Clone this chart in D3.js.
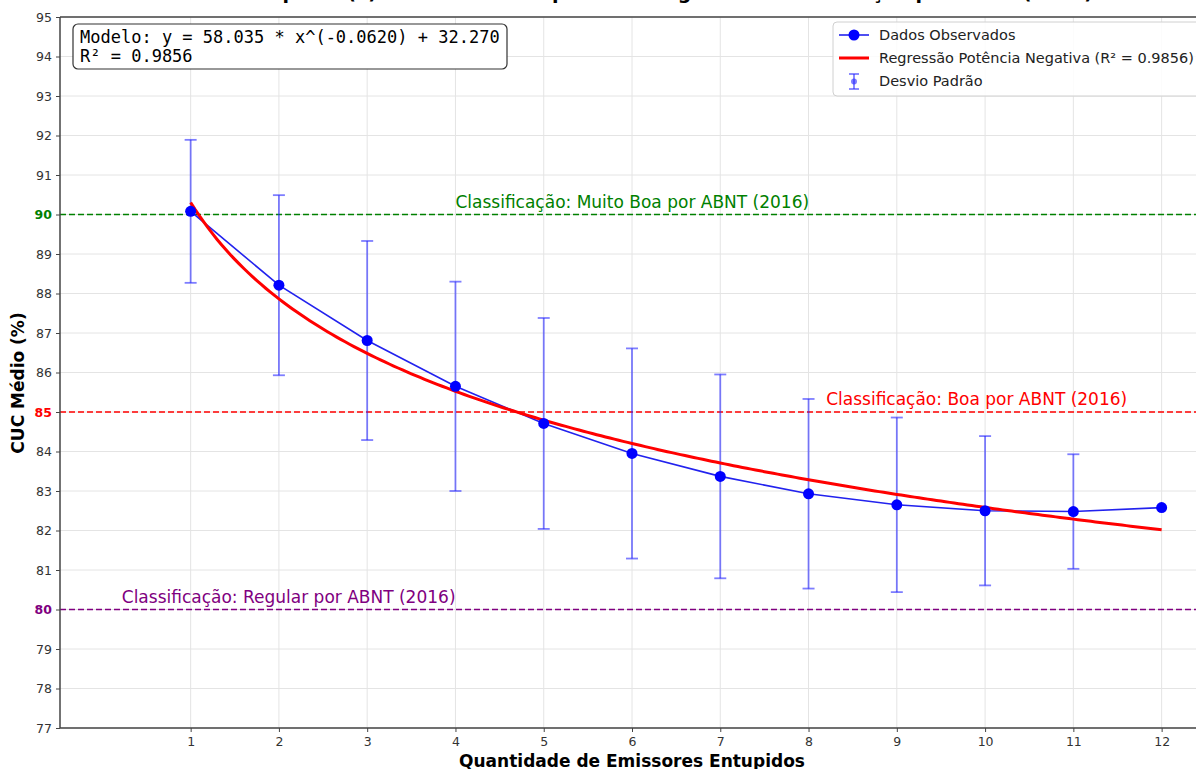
<!DOCTYPE html>
<html>
<head>
<meta charset="utf-8">
<script src="https://cdn.jsdelivr.net/npm/d3@7"></script>
<style>
    body { margin: 0; background: white; }
    svg { display: block; font-family: "DejaVu Sans", sans-serif; }
</style>
</head>
<body>
<div id="canvas"></div>
<script>
"use strict"

/* Data */
let emitters = [1, 2, 3, 4, 5, 6, 7, 8, 9, 10, 11, 12];
let cucMean = [90.08, 88.21, 86.81, 85.65, 84.71, 83.95, 83.37, 82.93, 82.65, 82.50, 82.48, 82.58];
let cucStd = [1.81, 2.28, 2.52, 2.65, 2.67, 2.66, 2.58, 2.40, 2.21, 1.89, 1.45, 0];
let yTicks = [77, 78, 79, 80, 81, 82, 83, 84, 85, 86, 87, 88, 89, 90, 91, 92, 93, 94, 95];

/* Fitted model shown in the chart: y = a * x^b + c */
let modelA = 58.035;
let modelB = -0.0620;
let modelC = 32.270;

/* ABNT (2016) classification thresholds */
let classLevels = [90, 85, 80];
let classNames = ["Classificação: Muito Boa por ABNT (2016)",
                  "Classificação: Boa por ABNT (2016)",
                  "Classificação: Regular por ABNT (2016)"];
let classColors = ["green", "red", "purple"];
let classLabelX = [4, 8.2, 0.22];

/* Configuration variables: drawing */
let svgWidth = 1196;
let svgHeight = 769;
let plotLeft = 60;
let plotRight = 1204;
let plotTop = 17;
let plotBottom = 728;

let svg = d3.select("#canvas")
    .append("svg")
    .attr("width", svgWidth)
    .attr("height", svgHeight);

let xScale = d3.scaleLinear()
    .domain([-0.48, 12.48])
    .range([plotLeft, plotRight]);

let yScale = d3.scaleLinear()
    .domain([77, 95])
    .range([plotBottom, plotTop]);

/* Title (mostly cut off at the top of the picture, as in the source) */
svg.append("text")
    .attr("x", 1093)
    .attr("y", -1)
    .attr("text-anchor", "end")
    .style("font-size", "19px")
    .style("font-weight", "bold")
    .text("Emissores Entupidos (x) com Modelo de potência negativa e Classificação por ABNT (2016)");

/* Grid */
svg.append("g")
    .selectAll("line")
    .data(yTicks)
    .join("line")
    .attr("x1", plotLeft)
    .attr("x2", plotRight)
    .attr("y1", d => yScale(d))
    .attr("y2", d => yScale(d))
    .attr("stroke", "#e4e4e4")
    .attr("stroke-width", 1);

svg.append("g")
    .selectAll("line")
    .data(emitters)
    .join("line")
    .attr("x1", d => xScale(d))
    .attr("x2", d => xScale(d))
    .attr("y1", plotTop)
    .attr("y2", plotBottom)
    .attr("stroke", "#e4e4e4")
    .attr("stroke-width", 1);

/* Classification lines */
classLevels.forEach(function (level, i) {
    svg.append("line")
        .attr("x1", plotLeft)
        .attr("x2", plotRight)
        .attr("y1", yScale(level))
        .attr("y2", yScale(level))
        .attr("stroke", classColors[i])
        .attr("stroke-width", 1.6)
        .attr("stroke-dasharray", "6,3");

    svg.append("text")
        .attr("x", xScale(classLabelX[i]))
        .attr("y", yScale(level) - 7)
        .style("font-size", "17px")
        .style("fill", classColors[i])
        .text(classNames[i]);
});

/* Error bars */
let errColor = "rgba(40, 40, 255, 0.6)";
let bars = svg.append("g");
emitters.forEach(function (x, i) {
    if (cucStd[i] === 0) return;
    let cx = xScale(x);
    let y1 = yScale(cucMean[i] + cucStd[i]);
    let y2 = yScale(cucMean[i] - cucStd[i]);
    bars.append("line")
        .attr("x1", cx).attr("x2", cx)
        .attr("y1", y1).attr("y2", y2)
        .attr("stroke", errColor)
        .attr("stroke-width", 1.8);
    [y1, y2].forEach(function (yy) {
        bars.append("line")
            .attr("x1", cx - 6).attr("x2", cx + 6)
            .attr("y1", yy).attr("y2", yy)
            .attr("stroke", errColor)
            .attr("stroke-width", 1.8);
    });
});

/* Observed data line */
let dataLine = d3.line()
    .x((d, i) => xScale(emitters[i]))
    .y(d => yScale(d));

svg.append("path")
    .datum(cucMean)
    .attr("d", dataLine)
    .attr("fill", "none")
    .attr("stroke", "#2222ee")
    .attr("stroke-width", 1.6);

/* Regression curve from the displayed model */
let curveX = d3.range(1, 12.001, 0.05);
let curveLine = d3.line()
    .x(d => xScale(d))
    .y(d => yScale(modelA * Math.pow(d, modelB) + modelC));

svg.append("path")
    .datum(curveX)
    .attr("d", curveLine)
    .attr("fill", "none")
    .attr("stroke", "red")
    .attr("stroke-width", 3);

/* Markers */
svg.append("g")
    .selectAll("circle")
    .data(cucMean)
    .join("circle")
    .attr("cx", (d, i) => xScale(emitters[i]))
    .attr("cy", d => yScale(d))
    .attr("r", 5.5)
    .attr("fill", "#0000ff");

/* Axes */
let xAxis = svg.append("g")
    .attr("transform", "translate(0," + plotBottom + ")")
    .call(d3.axisBottom(xScale).tickValues(emitters).tickSize(4).tickPadding(5));

let yAxis = svg.append("g")
    .attr("transform", "translate(" + plotLeft + ",0)")
    .call(d3.axisLeft(yScale).tickValues(yTicks).tickSize(4).tickPadding(4));

[xAxis, yAxis].forEach(function (ax) {
    ax.select(".domain").remove();
    ax.selectAll("line").attr("stroke", "#444");
    ax.selectAll("text")
        .style("font-family", "DejaVu Sans, sans-serif")
        .style("font-size", "12.5px")
        .style("fill", "#333");
});

/* Colour the classification tick labels */
yAxis.selectAll(".tick text")
    .each(function (d) {
        let k = classLevels.indexOf(d);
        if (k >= 0) {
            d3.select(this)
                .style("fill", classColors[k])
                .style("font-weight", "bold");
        }
    });

/* Spines */
svg.append("line")
    .attr("x1", plotLeft).attr("x2", plotRight)
    .attr("y1", plotBottom).attr("y2", plotBottom)
    .attr("stroke", "#444").attr("stroke-width", 1.5);
svg.append("line")
    .attr("x1", plotLeft).attr("x2", plotRight)
    .attr("y1", plotTop).attr("y2", plotTop)
    .attr("stroke", "#444").attr("stroke-width", 1.5);
svg.append("line")
    .attr("x1", plotLeft).attr("x2", plotLeft)
    .attr("y1", plotTop).attr("y2", plotBottom)
    .attr("stroke", "#444").attr("stroke-width", 1.5);

/* Axis labels */
svg.append("text")
    .attr("x", (plotLeft + plotRight) / 2)
    .attr("y", 767)
    .attr("text-anchor", "middle")
    .style("font-size", "17px")
    .style("font-weight", "bold")
    .text("Quantidade de Emissores Entupidos");

svg.append("text")
    .attr("transform", "translate(24," + 383 + ") rotate(-90)")
    .attr("text-anchor", "middle")
    .style("font-size", "17px")
    .style("font-weight", "bold")
    .text("CUC Médio (%)");

/* Model text box */
svg.append("rect")
    .attr("x", 73)
    .attr("y", 24)
    .attr("width", 434)
    .attr("height", 45)
    .attr("rx", 5)
    .attr("fill", "white")
    .attr("stroke", "#333")
    .attr("stroke-width", 1.2);

svg.append("text")
    .attr("x", 80)
    .attr("y", 43)
    .style("font-family", "DejaVu Sans Mono, monospace")
    .style("font-size", "17px")
    .text("Modelo: y = " + modelA.toFixed(3) + " * x^(" + modelB.toFixed(4) + ") + " + modelC.toFixed(3));

svg.append("text")
    .attr("x", 80)
    .attr("y", 62)
    .style("font-family", "DejaVu Sans Mono, monospace")
    .style("font-size", "17px")
    .text("R² = 0.9856");

/* Legend */
let legend = svg.append("g");
legend.append("rect")
    .attr("x", 833)
    .attr("y", 22)
    .attr("width", 370)
    .attr("height", 74)
    .attr("rx", 4)
    .attr("fill", "white")
    .attr("fill-opacity", 0.85)
    .attr("stroke", "#d0d0d0");

legend.append("line")
    .attr("x1", 839).attr("x2", 869)
    .attr("y1", 35).attr("y2", 35)
    .attr("stroke", "#2222ee").attr("stroke-width", 1.6);
legend.append("circle")
    .attr("cx", 854).attr("cy", 35).attr("r", 5.5)
    .attr("fill", "#0000ff");

legend.append("line")
    .attr("x1", 839).attr("x2", 869)
    .attr("y1", 58).attr("y2", 58)
    .attr("stroke", "red").attr("stroke-width", 3);

legend.append("line")
    .attr("x1", 854).attr("x2", 854)
    .attr("y1", 74).attr("y2", 89)
    .attr("stroke", errColor).attr("stroke-width", 1.8);
[74, 89].forEach(function (yy) {
    legend.append("line")
        .attr("x1", 849).attr("x2", 859)
        .attr("y1", yy).attr("y2", yy)
        .attr("stroke", errColor).attr("stroke-width", 1.8);
});
legend.append("circle")
    .attr("cx", 854).attr("cy", 81.5).attr("r", 3)
    .attr("fill", errColor);

let legendNames = ["Dados Observados",
                   "Regressão Potência Negativa (R² = 0.9856)",
                   "Desvio Padrão"];
legend.selectAll("text.lg")
    .data(legendNames)
    .join("text")
    .attr("x", 879)
    .attr("y", (d, i) => 35 + i * 23)
    .attr("dy", "0.35em")
    .style("font-size", "14.5px")
    .style("fill", "#222")
    .text(d => d);
</script>
</body>
</html>
